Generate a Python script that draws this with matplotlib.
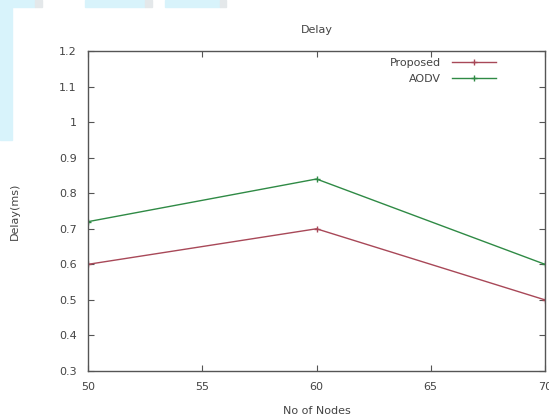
import matplotlib.pyplot as plt
from matplotlib.patches import Rectangle

# data
nodes = [50, 60, 70]
proposed = [0.6, 0.7, 0.5]
aodv = [0.72, 0.84, 0.6]
xticks = [50, 55, 60, 65, 70]
xticklabels = ['50', '55', '60', '65', '70']
yticks = [0.3, 0.4, 0.5, 0.6, 0.7, 0.8, 0.9, 1.0, 1.1, 1.2]
yticklabels = ['0.3', '0.4', '0.5', '0.6', '0.7', '0.8', '0.9', '1', '1.1', '1.2']

W, H = 549, 420
fig = plt.figure(figsize=(W / 100, H / 100), dpi=100)
fig.patch.set_facecolor('white')

# light blue page background peeking round the screenshot
blue = '#d8f3fb'
def px_rect(x0, y0, x1, y1, color):
    fig.patches.append(Rectangle((x0 / W, 1 - y1 / H), (x1 - x0) / W, (y1 - y0) / H,
                                 transform=fig.transFigure, color=color, zorder=-10))
px_rect(0, 0, 12, 140, blue)
px_rect(0, 0, 35, 7, blue)
px_rect(35, 0, 42, 7, '#e4e8ea')
px_rect(85, 0, 145, 7, blue)
px_rect(145, 0, 152, 7, '#e4e8ea')
px_rect(165, 0, 220, 7, blue)
px_rect(220, 0, 226, 7, '#e4e8ea')

# axes box in pixels: left 88, right 545, top 51, bottom 371
ax = fig.add_axes([88 / W, 1 - 371 / H, (545 - 88) / W, (371 - 51) / H])

txt = '#444444'
ax.plot(nodes, proposed, color='#a84858', lw=1.0, marker='+', ms=5, label='Proposed')
ax.plot(nodes, aodv, color='#2f8a45', lw=1.0, marker='+', ms=5, label='AODV')

ax.set_xlim(50, 70)
ax.set_ylim(0.3, 1.2)
ax.set_xticks(xticks)
ax.set_xticklabels(xticklabels)
ax.set_yticks(yticks)
ax.set_yticklabels(yticklabels)
ax.tick_params(direction='in', top=True, right=True, length=4, width=0.8,
               labelsize=8, labelcolor=txt, color='#555555', pad=8)
for s in ax.spines.values():
    s.set_color('#555555')
    s.set_linewidth(1.0)

ax.set_title('Delay', fontsize=8, color=txt, pad=13)
ax.set_xlabel('No of Nodes', fontsize=8, color=txt, labelpad=10)
ax.set_ylabel('Delay(ms)', fontsize=8, color=txt, labelpad=28)

leg = ax.legend(loc='upper right', bbox_to_anchor=(1 - 42 / 457, 1.0), frameon=False,
                markerfirst=False, fontsize=8, handlelength=4, labelspacing=0.55,
                borderaxespad=0.2, handletextpad=1.0)
for t in leg.get_texts():
    t.set_color(txt)

fig.savefig('out.png', dpi=100)
